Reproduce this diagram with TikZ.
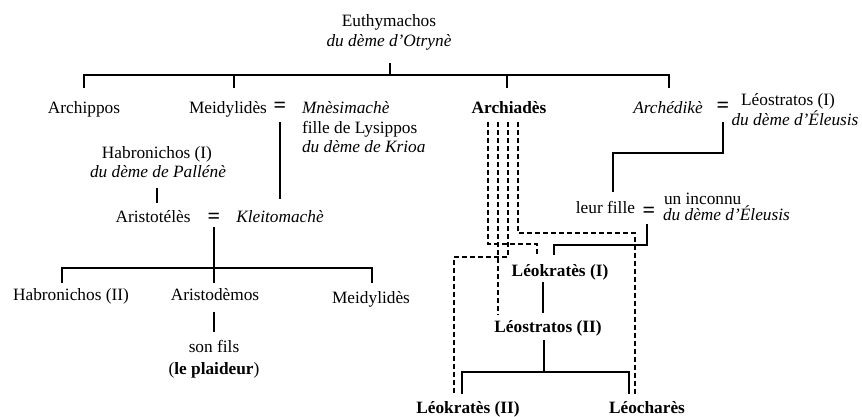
\documentclass[tikz,border=0pt]{standalone}
\usepackage{fontspec}
\setmainfont{Liberation Serif}
\begin{document}
\begin{tikzpicture}[x=1pt,y=-1pt,
  every node/.style={inner sep=0pt, outer sep=0pt, font=\fontsize{17.3}{20}\selectfont},
  lbl/.style={anchor=base},
  lblw/.style={anchor=base west},
  lble/.style={anchor=base east},
  it/.style={font=\fontsize{17.3}{20}\selectfont\itshape},
  bf/.style={font=\fontsize{17.3}{20}\selectfont\bfseries},
  eqs/.style={anchor=center, font=\fontsize{22}{22}\selectfont\bfseries},
  link/.style={line width=2pt},
  dlink/.style={line width=1.7pt, dash pattern=on 5pt off 3pt},
]
\useasboundingbox (0,0) rectangle (862,416);
% texts
\node[lbl] (eu1) at (389,26) {Euthymachos};
\node[lbl,it] (eu2) at (389,46) {du dème d’Otrynè};
\node[lbl] (arch) at (84,113) {Archippos};
\node[lbl] (meid) at (228,113) {Meidylidès};
\node[eqs] (eqM) at (280,107.5) {=};
\node[lblw,it] (mnes) at (302,113) {Mnèsimachè};
\node[lblw] (mnes2) at (302,133) {fille de Lysippos};
\node[lblw,it] (mnes3) at (302,152) {du dème de Krioa};
\node[lbl,bf] (archi) at (509,113) {Archiadès};
\node[lbl,it] (ached) at (668,113) {Archédikè};
\node[eqs] (eqA) at (723,107) {=};
\node[lbl] (leo1) at (788,105.5) {Léostratos (I)};
\node[lbl,it] (leo1b) at (795,125) {du dème d’Éleusis};
\node[lbl] (habI) at (157,158) {Habronichos (I)};
\node[lbl,it] (habIb) at (158,177) {du dème de Pallénè};
\node[lbl] (arist) at (153,222) {Aristotélès};
\node[eqs] (eqK) at (214,218.5) {=};
\node[lbl,it] (kleit) at (280,222) {Kleitomachè};
\node[lbl] (habII) at (71,300) {Habronichos (II)};
\node[lbl] (aristod) at (215,300) {Aristodèmos};
\node[lbl] (meid2) at (371,303) {Meidylidès};
\node[lbl] (sonfils) at (214,352) {son fils};
\node[lbl] (plaid) at (214,374) {(\textbf{le plaideur})};
\node[lble] (fille) at (635,213) {leur fille};
\node[eqs] (eqL) at (649,212.5) {=};
\node[lblw] (inc1) at (664,204) {un inconnu};
\node[lblw,it] (inc2) at (663,220) {du dème d’Éleusis};
\node[lbl,bf] (leok1) at (560,276) {Léokratès (I)};
\node[lbl,bf] (leost2) at (548,332) {Léostratos (II)};
\node[lbl,bf] (leok2) at (468,413) {Léokratès (II)};
\node[lbl,bf] (leoch) at (647,413) {Léocharès};
% junction coordinates
\coordinate (e0) at (390,63);
\coordinate (e1) at (390,75);
\coordinate (bL) at (84,75);
\coordinate (bR) at (669,75);
\coordinate (d1) at (84,88);
\coordinate (d2a) at (234,75);
\coordinate (d2) at (234,88);
\coordinate (d3a) at (507,75);
\coordinate (d3) at (507,88);
\coordinate (d4) at (669,88);
\coordinate (m0) at (280,122);
\coordinate (m1) at (280,199);
\coordinate (h0) at (157,188);
\coordinate (h1) at (157,203);
\coordinate (k0) at (214,227);
\coordinate (k1) at (214,268);
\coordinate (kL) at (62,268);
\coordinate (kR) at (372,268);
\coordinate (kL1) at (62,283);
\coordinate (kM1) at (214,283);
\coordinate (kR1) at (372,283);
\coordinate (s0) at (214,312);
\coordinate (s1) at (214,332);
\coordinate (a0) at (723,122);
\coordinate (a1) at (723,153);
\coordinate (a2) at (613,153);
\coordinate (a3) at (613,192);
\coordinate (l0) at (647,224);
\coordinate (l1) at (647,245);
\coordinate (l2) at (554,245);
\coordinate (l3) at (554,255);
\coordinate (o0) at (543,282);
\coordinate (o1) at (543,313);
\coordinate (p0) at (544,340);
\coordinate (p1) at (544,372);
\coordinate (pL) at (462,372);
\coordinate (pR) at (629,372);
\coordinate (pL1) at (462,394);
\coordinate (pR1) at (629,394);
% solid connectors
\draw[link] (e0) -- (e1);
\draw[link] (d1) -- (bL) -- (bR) -- (d4);
\draw[link] (d2a) -- (d2);
\draw[link] (d3a) -- (d3);
\draw[link] (m0) -- (m1);
\draw[link] (h0) -- (h1);
\draw[link] (k0) -- (k1);
\draw[link] (kL1) -- (kL) -- (kR) -- (kR1);
\draw[link] (k1) -- (kM1);
\draw[link] (s0) -- (s1);
\draw[link] (a0) -- (a1) -- (a2) -- (a3);
\draw[link] (l0) -- (l1) -- (l2) -- (l3);
\draw[link] (o0) -- (o1);
\draw[link] (p0) -- (p1);
\draw[link] (pL1) -- (pL) -- (pR) -- (pR1);
% dashed connectors from Archiades
\coordinate (q1a) at (488,122);
\coordinate (q1b) at (488,244);
\coordinate (q1c) at (537,244);
\coordinate (q1d) at (537,255);
\coordinate (q2a) at (498,122);
\coordinate (q2b) at (498,315);
\coordinate (q3a) at (508,122);
\coordinate (q3b) at (508,257);
\coordinate (q3c) at (454,257);
\coordinate (q3d) at (454,394);
\coordinate (q4a) at (518,122);
\coordinate (q4b) at (518,233);
\coordinate (q4c) at (635,233);
\coordinate (q4d) at (635,395);
\draw[dlink] (q1a) -- (q1b) -- (q1c) -- (q1d);
\draw[dlink] (q2a) -- (q2b);
\draw[dlink] (q3a) -- (q3b) -- (q3c) -- (q3d);
\draw[dlink] (q4a) -- (q4b) -- (q4c) -- (q4d);
\end{tikzpicture}
\end{document}
